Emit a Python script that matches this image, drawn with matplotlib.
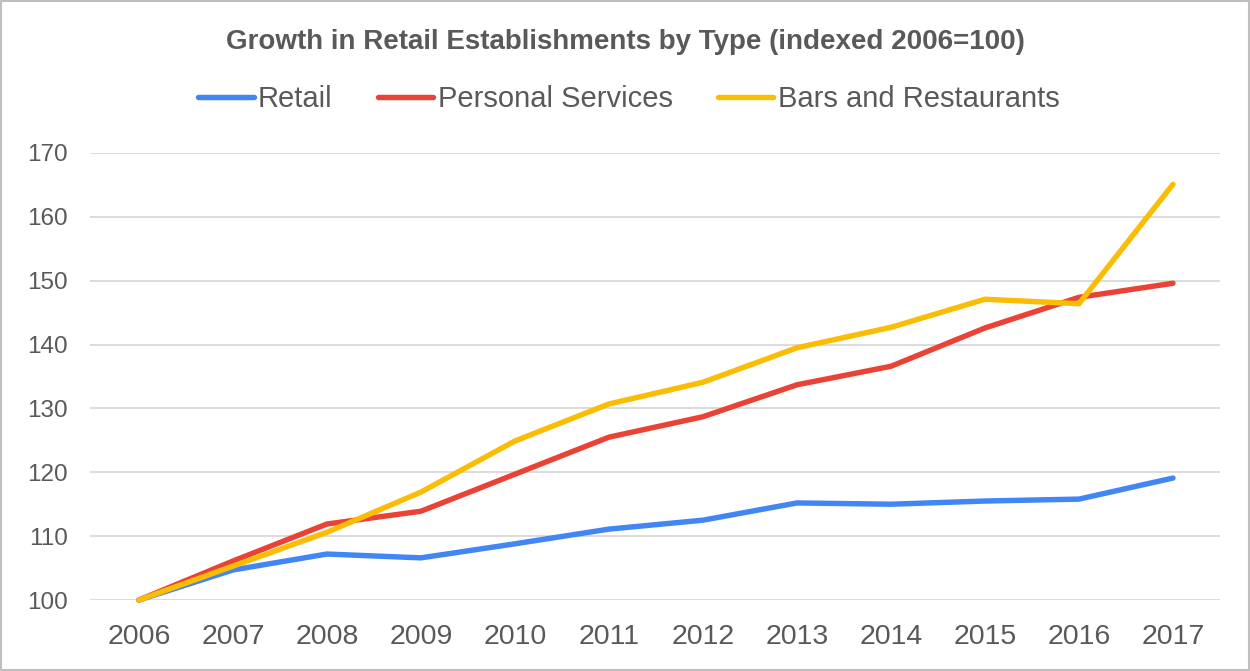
import matplotlib
matplotlib.use('Agg')
from matplotlib import pyplot as plt
from matplotlib.patches import Rectangle

years = [2006, 2007, 2008, 2009, 2010, 2011, 2012, 2013, 2014, 2015, 2016, 2017]
retail = [100, 104.7, 107.2, 106.6, 108.8, 111.1, 112.5, 115.2, 115.0, 115.5, 115.8, 119.1]
personal = [100, 106.1, 111.9, 113.9, 119.7, 125.5, 128.7, 133.7, 136.6, 142.6, 147.4, 149.6]
bars = [100, 105.3, 110.6, 116.9, 124.9, 130.7, 134.1, 139.5, 142.7, 147.1, 146.4, 165.1]

plt.rcParams['font.family'] = ['Liberation Sans', 'DejaVu Sans']
txt = '#595959'

fig = plt.figure(figsize=(12.5, 6.71), dpi=100)
ax = fig.add_axes([0.072, 0.1058, 0.904, 0.6662])

ax.plot(years, retail, color='#4285F4', lw=3.9, label='Retail', clip_on=False, solid_capstyle='round', zorder=3)
ax.plot(years, personal, color='#EA4335', lw=3.9, label='Personal Services', clip_on=False, solid_capstyle='round', zorder=3)
ax.plot(years, bars, color='#FBBC04', lw=3.9, label='Bars and Restaurants', clip_on=False, solid_capstyle='round', zorder=3)

ax.set_xlim(2005.48, 2017.5)
ax.set_ylim(100, 170)
ax.set_yticks(range(100, 171, 10))
ax.set_xticks(years)
ax.grid(axis='y', color='#d9d9d9', lw=1.3)
for s in ax.spines.values():
    s.set_visible(False)
ax.tick_params(length=0, colors=txt)
ax.tick_params(axis='x', labelsize=20.5, pad=17)
ax.tick_params(axis='y', labelsize=17.5, pad=16)

fig.text(0.5, 0.937, 'Growth in Retail Establishments by Type (indexed 2006=100)',
         ha='center', va='center', fontsize=20, fontweight='bold', color=txt)
leg = fig.legend(loc='center', bbox_to_anchor=(0.503, 0.852), ncol=3, frameon=False,
                 fontsize=21, handlelength=1.9, handletextpad=0.15, columnspacing=1.55)
for t in leg.get_texts():
    t.set_color(txt)
for h in leg.get_lines():
    h.set_linewidth(3.9)

# light outer border
fig.patches.append(Rectangle((0.001, 0.001), 0.998, 0.997, transform=fig.transFigure,
                             fill=False, edgecolor='#bfbfbf', lw=1.5))

plt.savefig('out.png', dpi=100)
